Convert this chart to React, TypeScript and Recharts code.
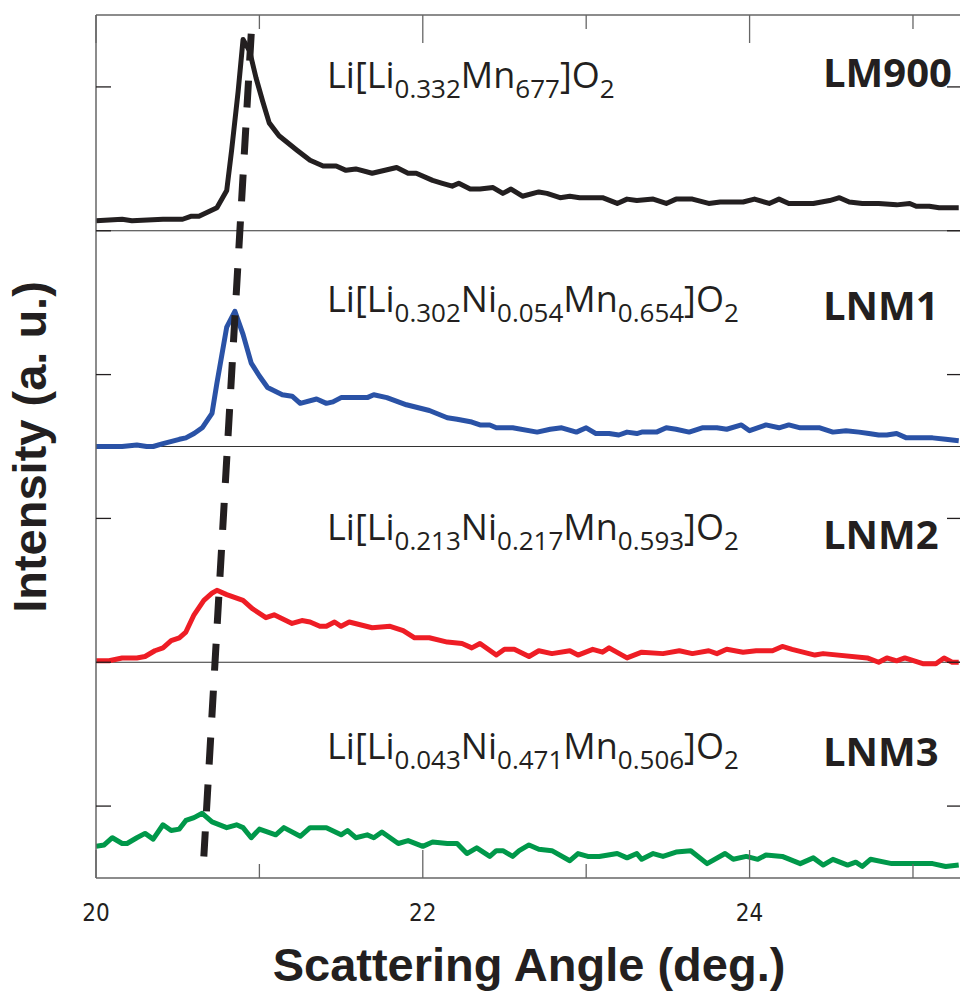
import React from "react";
import { LineChart, Line, XAxis, YAxis, ReferenceLine } from "recharts";

// x: scattering angle 2θ (deg), y: intensity in a.u. (one tick step = 1 a.u.)
const angleTicks = [20, 21, 22, 23, 24, 25];
const intensityTicks = [0.5, 1.5, 2.5, 3.5, 4.5, 5.5];
const panelDividers = [1.5, 3, 4.5];

// [angle, intensity above the panel baseline]
const lm900: [number, number][] = [
  [20.0, 0.07], [20.16, 0.08], [20.22, 0.07], [20.41, 0.08], [20.53, 0.08], [20.58, 0.1],
  [20.63, 0.1], [20.74, 0.16], [20.8, 0.28], [20.83, 0.56], [20.87, 0.97], [20.9, 1.33],
  [20.94, 1.25], [20.98, 1.06], [21.02, 0.9], [21.06, 0.75], [21.12, 0.66], [21.23, 0.56],
  [21.31, 0.49], [21.39, 0.45], [21.47, 0.45], [21.53, 0.42], [21.59, 0.43], [21.69, 0.4],
  [21.84, 0.44], [21.91, 0.4], [21.96, 0.4], [22.06, 0.35], [22.12, 0.33], [22.18, 0.31],
  [22.22, 0.33], [22.29, 0.29], [22.35, 0.29], [22.43, 0.3], [22.49, 0.26], [22.54, 0.29],
  [22.61, 0.24], [22.71, 0.27], [22.76, 0.26], [22.84, 0.23], [22.9, 0.24], [22.96, 0.23],
  [23.1, 0.23], [23.19, 0.19], [23.25, 0.22], [23.31, 0.21], [23.41, 0.22], [23.49, 0.19],
  [23.55, 0.22], [23.65, 0.22], [23.75, 0.19], [23.82, 0.2], [23.96, 0.2], [24.03, 0.22],
  [24.12, 0.19], [24.18, 0.22], [24.24, 0.19], [24.39, 0.19], [24.49, 0.21], [24.55, 0.23],
  [24.61, 0.2], [24.69, 0.19], [24.79, 0.19], [24.9, 0.18], [24.98, 0.19], [25.02, 0.17],
  [25.1, 0.17], [25.16, 0.16], [25.22, 0.16], [25.28, 0.16],
];

const lnm1: [number, number][] = [
  [20.0, 0.0], [20.16, 0.0], [20.25, 0.01], [20.31, 0.0], [20.35, 0.0], [20.41, 0.02],
  [20.51, 0.05], [20.55, 0.06], [20.6, 0.09], [20.65, 0.13], [20.71, 0.23], [20.74, 0.44],
  [20.8, 0.83], [20.85, 0.94], [20.9, 0.78], [20.95, 0.58], [21.0, 0.49], [21.05, 0.41],
  [21.14, 0.36], [21.2, 0.35], [21.25, 0.3], [21.35, 0.33], [21.41, 0.3], [21.45, 0.31],
  [21.5, 0.34], [21.66, 0.34], [21.7, 0.36], [21.78, 0.34], [21.9, 0.29], [22.04, 0.25],
  [22.15, 0.2], [22.21, 0.19], [22.3, 0.17], [22.35, 0.15], [22.41, 0.15], [22.45, 0.13],
  [22.49, 0.13], [22.55, 0.13], [22.7, 0.1], [22.78, 0.12], [22.85, 0.13], [22.94, 0.1],
  [23.0, 0.13], [23.06, 0.09], [23.14, 0.09], [23.2, 0.08], [23.25, 0.1], [23.31, 0.09],
  [23.34, 0.1], [23.43, 0.1], [23.49, 0.13], [23.55, 0.12], [23.63, 0.1], [23.71, 0.13],
  [23.8, 0.13], [23.86, 0.12], [23.95, 0.15], [24.0, 0.11], [24.1, 0.15], [24.18, 0.13],
  [24.24, 0.15], [24.31, 0.13], [24.43, 0.13], [24.51, 0.1], [24.59, 0.11], [24.67, 0.1],
  [24.73, 0.09], [24.79, 0.08], [24.84, 0.08], [24.9, 0.09], [24.96, 0.06], [25.04, 0.06],
  [25.12, 0.06], [25.2, 0.05], [25.28, 0.04],
];

const lnm2: [number, number][] = [
  [20.0, 0.01], [20.08, 0.01], [20.16, 0.03], [20.25, 0.03], [20.3, 0.04], [20.36, 0.08],
  [20.41, 0.1], [20.46, 0.15], [20.51, 0.17], [20.55, 0.21], [20.6, 0.33], [20.66, 0.43],
  [20.71, 0.48], [20.74, 0.5], [20.8, 0.47], [20.9, 0.43], [20.96, 0.37], [21.04, 0.31],
  [21.09, 0.33], [21.2, 0.27], [21.26, 0.29], [21.31, 0.28], [21.37, 0.25], [21.41, 0.25],
  [21.46, 0.28], [21.5, 0.25], [21.55, 0.28], [21.69, 0.24], [21.8, 0.25], [21.88, 0.22],
  [21.95, 0.17], [22.04, 0.17], [22.15, 0.14], [22.24, 0.13], [22.3, 0.1], [22.35, 0.13],
  [22.45, 0.05], [22.5, 0.09], [22.56, 0.09], [22.65, 0.04], [22.71, 0.08], [22.79, 0.06],
  [22.9, 0.08], [22.95, 0.05], [23.04, 0.09], [23.1, 0.07], [23.14, 0.1], [23.25, 0.03],
  [23.34, 0.07], [23.47, 0.06], [23.57, 0.08], [23.65, 0.06], [23.75, 0.08], [23.8, 0.06],
  [23.86, 0.09], [23.96, 0.07], [24.04, 0.08], [24.14, 0.08], [24.2, 0.11], [24.26, 0.09],
  [24.4, 0.05], [24.45, 0.06], [24.72, 0.03], [24.79, 0.0], [24.84, 0.03], [24.9, 0.01],
  [24.95, 0.03], [25.06, -0.01], [25.14, -0.01], [25.19, 0.03], [25.24, 0.0], [25.28, 0.0],
];

const lnm3: [number, number][] = [
  [20.0, 0.22], [20.05, 0.23], [20.1, 0.28], [20.16, 0.24], [20.19, 0.24], [20.25, 0.28],
  [20.3, 0.31], [20.35, 0.27], [20.41, 0.37], [20.46, 0.33], [20.51, 0.34], [20.55, 0.4],
  [20.6, 0.42], [20.65, 0.45], [20.71, 0.39], [20.8, 0.35], [20.86, 0.37], [20.9, 0.35],
  [20.95, 0.28], [21.0, 0.34], [21.1, 0.3], [21.15, 0.35], [21.25, 0.29], [21.31, 0.35],
  [21.41, 0.35], [21.5, 0.3], [21.54, 0.33], [21.59, 0.28], [21.66, 0.3], [21.7, 0.28],
  [21.75, 0.32], [21.85, 0.24], [21.91, 0.26], [22.0, 0.22], [22.06, 0.25], [22.15, 0.24],
  [22.21, 0.24], [22.27, 0.17], [22.33, 0.21], [22.41, 0.15], [22.45, 0.19], [22.49, 0.19],
  [22.55, 0.15], [22.59, 0.19], [22.65, 0.23], [22.71, 0.2], [22.79, 0.19], [22.9, 0.12],
  [22.95, 0.17], [23.01, 0.15], [23.08, 0.15], [23.19, 0.17], [23.25, 0.14], [23.31, 0.17],
  [23.34, 0.13], [23.41, 0.17], [23.47, 0.15], [23.55, 0.18], [23.64, 0.19], [23.74, 0.1],
  [23.85, 0.17], [23.9, 0.13], [23.98, 0.15], [24.05, 0.13], [24.1, 0.16], [24.2, 0.15],
  [24.31, 0.1], [24.39, 0.14], [24.45, 0.09], [24.51, 0.13], [24.6, 0.09], [24.65, 0.11],
  [24.69, 0.08], [24.74, 0.13], [24.87, 0.1], [25.0, 0.1], [25.12, 0.1], [25.2, 0.08],
  [25.28, 0.09],
];

// dashed guide following the peak shift, in full-axis units
const peakShift: [number, number][] = [
  [20.95, 5.87],
  [20.66, 0.15],
];

type Part = [string, boolean];
const samples: {
  name: string;
  base: number;
  color: string;
  points: [number, number][];
  formula: Part[];
}[] = [
  {
    name: "LM900",
    base: 4.5,
    color: "#231f20",
    points: lm900,
    formula: [["Li[Li", false], ["0.332", true], ["Mn", false], ["677", true], ["]O", false], ["2", true]],
  },
  {
    name: "LNM1",
    base: 3,
    color: "#2a52a6",
    points: lnm1,
    formula: [
      ["Li[Li", false], ["0.302", true], ["Ni", false], ["0.054", true],
      ["Mn", false], ["0.654", true], ["]O", false], ["2", true],
    ],
  },
  {
    name: "LNM2",
    base: 1.5,
    color: "#ee1d25",
    points: lnm2,
    formula: [
      ["Li[Li", false], ["0.213", true], ["Ni", false], ["0.217", true],
      ["Mn", false], ["0.593", true], ["]O", false], ["2", true],
    ],
  },
  {
    name: "LNM3",
    base: 0,
    color: "#00984a",
    points: lnm3,
    formula: [
      ["Li[Li", false], ["0.043", true], ["Ni", false], ["0.471", true],
      ["Mn", false], ["0.506", true], ["]O", false], ["2", true],
    ],
  },
];

const PLOT_LEFT = 96;
const PLOT_RIGHT = 962;
const PLOT_TOP = 15;
const PLOT_BOTTOM = 878;
const CHART_W = 1000;
const CHART_H = 994;
const FRAME = "#666";
const INK = "#231f20";

const formulaBaselines = [88, 312, 540, 759];
const nameBaselines = [87, 320, 549, 766];

const BottomTick = (props: any) => {
  const { x, payload } = props;
  const major = payload.value % 2 === 0;
  return (
    <g>
      <line x1={x} x2={x} y1={PLOT_BOTTOM} y2={PLOT_BOTTOM - (major ? 28 : 14)} stroke={FRAME} strokeWidth={1.3} />
      {major && (
        <text
          x={x}
          y={PLOT_BOTTOM + 43}
          textAnchor="middle"
          fontFamily="'Liberation Sans Narrow', 'DejaVu Sans Condensed', sans-serif"
          fontSize={24}
          fill={INK}
        >
          {payload.value}
        </text>
      )}
    </g>
  );
};

const TopTick = (props: any) => {
  const { x, payload } = props;
  const major = payload.value % 2 === 0;
  return <line x1={x} x2={x} y1={PLOT_TOP} y2={PLOT_TOP + (major ? 28 : 14)} stroke={FRAME} strokeWidth={1.3} />;
};

const LeftTick = (props: any) => (
  <line x1={PLOT_LEFT} x2={PLOT_LEFT + 15} y1={props.y} y2={props.y} stroke={INK} strokeWidth={1.3} />
);

const RightTick = (props: any) => (
  <line x1={PLOT_RIGHT - 15} x2={PLOT_RIGHT} y1={props.y} y2={props.y} stroke={INK} strokeWidth={1.3} />
);

function Formula({ x, y, parts }: { x: number; y: number; parts: Part[] }) {
  return (
    <text x={x} y={y} fontFamily="'Open Sans', sans-serif" fontSize={36} fill={INK}>
      {parts.map(([t, sub], i) => {
        const prevSub = i > 0 && parts[i - 1][1];
        const dy = sub && !prevSub ? 10 : !sub && prevSub ? -10 : 0;
        return (
          <tspan key={i} dy={dy} fontSize={sub ? 26 : 36}>
            {t}
          </tspan>
        );
      })}
    </text>
  );
}

export default function App() {
  const series = samples.map((s) => ({
    ...s,
    data: s.points.map(([x, v]) => ({ x, y: v + s.base })),
  }));
  const guide = peakShift.map(([x, y]) => ({ x, y }));

  return (
    <div
      style={{
        position: "absolute",
        left: 0,
        top: 0,
        width: 960,
        height: 994,
        overflow: "hidden",
        background: "#fff",
      }}
    >
      <LineChart
        width={CHART_W}
        height={CHART_H}
        margin={{
          top: PLOT_TOP - 1,
          left: PLOT_LEFT - 1,
          right: CHART_W - PLOT_RIGHT - 1,
          bottom: CHART_H - PLOT_BOTTOM - 1,
        }}
      >
        <XAxis
          xAxisId="b"
          dataKey="x"
          type="number"
          domain={[20, 25.3]}
          ticks={angleTicks}
          height={1}
          axisLine={{ stroke: FRAME, strokeWidth: 1.5 }}
          tickLine={false}
          tick={<BottomTick />}
          allowDataOverflow
        />
        <XAxis
          xAxisId="t"
          orientation="top"
          dataKey="x"
          type="number"
          domain={[20, 25.3]}
          ticks={angleTicks}
          height={1}
          axisLine={{ stroke: FRAME, strokeWidth: 1.5 }}
          tickLine={false}
          tick={<TopTick />}
          allowDataOverflow
        />
        <YAxis
          yAxisId="l"
          type="number"
          domain={[0, 6]}
          ticks={intensityTicks}
          width={1}
          axisLine={{ stroke: FRAME, strokeWidth: 1.5 }}
          tickLine={false}
          tick={<LeftTick />}
          allowDataOverflow
        />
        <YAxis
          yAxisId="r"
          orientation="right"
          type="number"
          domain={[0, 6]}
          ticks={intensityTicks}
          width={1}
          axisLine={{ stroke: FRAME, strokeWidth: 1.5 }}
          tickLine={false}
          tick={<RightTick />}
          allowDataOverflow
        />
        {panelDividers.map((d) => (
          <ReferenceLine key={d} xAxisId="b" yAxisId="l" y={d} stroke="#333" strokeWidth={1.2} />
        ))}
        {series.map((s) => (
          <Line
            key={s.name}
            xAxisId="b"
            yAxisId="l"
            data={s.data}
            dataKey="y"
            type="linear"
            stroke={s.color}
            strokeWidth={5}
            strokeLinejoin="round"
            dot={false}
            isAnimationActive={false}
          />
        ))}
        <Line
          xAxisId="b"
          yAxisId="l"
          data={guide}
          dataKey="y"
          type="linear"
          stroke={INK}
          strokeWidth={7}
          strokeDasharray="27 20"
          dot={false}
          isAnimationActive={false}
        />
      </LineChart>

      <svg
        width={960}
        height={994}
        style={{ position: "absolute", left: 0, top: 0, pointerEvents: "none" }}
      >
        {samples.map((s, i) => (
          <Formula key={s.name} x={327} y={formulaBaselines[i]} parts={s.formula} />
        ))}
        {samples.map((s, i) => (
          <text
            key={s.name}
            x={823}
            y={nameBaselines[i]}
            fontFamily="'Open Sans', sans-serif"
            fontWeight={700}
            fontSize={40}
            fill={INK}
          >
            {s.name}
          </text>
        ))}
        <text
          transform="translate(46,447) rotate(-90)"
          textAnchor="middle"
          fontFamily="'Liberation Sans', Arial, sans-serif"
          fontWeight={700}
          fontSize={47}
          fill={INK}
        >
          Intensity (a. u.)
        </text>
        <text
          x={529}
          y={981}
          textAnchor="middle"
          fontFamily="'Liberation Sans', Arial, sans-serif"
          fontWeight={700}
          fontSize={47}
          fill={INK}
        >
          Scattering Angle (deg.)
        </text>
      </svg>
    </div>
  );
}
